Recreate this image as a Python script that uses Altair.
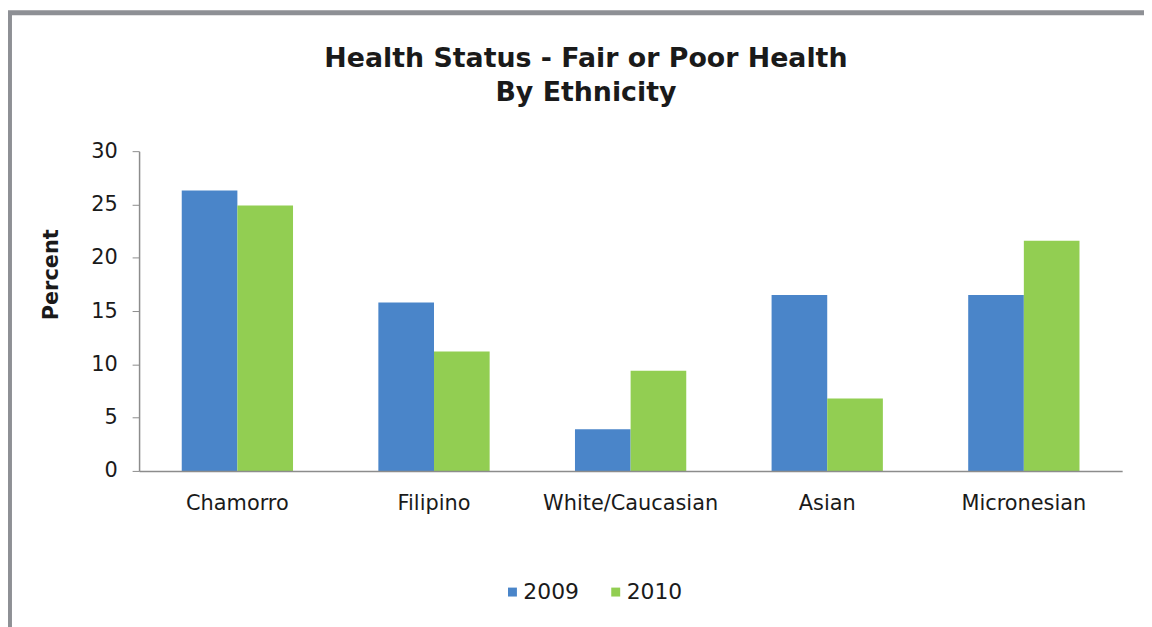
import altair as alt
import pandas as pd

categories = ["Chamorro", "Filipino", "White/Caucasian", "Asian", "Micronesian"]
years = ["2009", "2010"]
v2009 = [26.3, 15.8, 3.9, 16.5, 16.5]
v2010 = [24.9, 11.2, 9.4, 6.8, 21.6]
y_ticks = [0, 5, 10, 15, 20, 25, 30]
colors = ["#4A85C9", "#92CE52"]

rows = []
for c, a, b in zip(categories, v2009, v2010):
    rows.append({"Ethnicity": c, "Year": "2009", "Percent": a})
    rows.append({"Ethnicity": c, "Year": "2010", "Percent": b})
df = pd.DataFrame(rows)

TXT = "#1a1a1a"
FONT = "DejaVu Sans"

frame = alt.Chart(alt.Data(values=[{"a": 1}])).mark_rect(
    fillOpacity=0, stroke="#8e9095", strokeWidth=5
).encode(
    x=alt.value(-130.5), x2=alt.value(1100),
    y=alt.value(-139.5), y2=alt.value(700)
)

bars = alt.Chart(df).mark_bar().encode(
    x=alt.X("Ethnicity:N", sort=categories,
            scale=alt.Scale(paddingInner=0.434, paddingOuter=0.217),
            axis=alt.Axis(title=None, labelAngle=0, labelFont=FONT, labelFontSize=21,
                          labelColor=TXT, labelPadding=22, ticks=False,
                          domainColor="#8c8c8c", domainWidth=1.5, zindex=1)),
    xOffset=alt.XOffset("Year:N", sort=years,
                        scale=alt.Scale(paddingInner=0, paddingOuter=0)),
    y=alt.Y("Percent:Q", scale=alt.Scale(domain=[0, 30], nice=False),
            axis=alt.Axis(values=y_ticks, title="Percent", grid=False,
                          labelFont=FONT, labelFontSize=21, labelColor=TXT,
                          labelPadding=15, tickSize=7, tickColor="#8c8c8c",
                          domainColor="#8c8c8c", domainWidth=1.5,
                          titleFont=FONT, titleFontSize=21, titleFontWeight="bold",
                          titleColor=TXT, titleX=-88, titleY=124,
                          titleAlign="center", titleBaseline="middle", zindex=1)),
    color=alt.Color("Year:N",
                    scale=alt.Scale(domain=years, range=colors),
                    legend=alt.Legend(title=None, orient="none", direction="horizontal",
                                      legendX=365, legendY=433, padding=0,
                                      symbolType="square", symbolSize=81,
                                      symbolStrokeWidth=0, labelFont=FONT,
                                      labelFontSize=22, labelColor=TXT,
                                      labelOffset=0, columnPadding=26)),
)

chart = alt.layer(frame, bars).properties(
    width=990,
    height=322,
    title=alt.Title(["Health Status - Fair or Poor Health", "By Ethnicity"],
                    font=FONT, fontSize=27, fontWeight="bold", color=TXT,
                    anchor="middle", frame="group", dx=-45, offset=-97,
                    lineHeight=34),
    padding={"left": 132, "top": 142, "right": 22, "bottom": 155},
    autosize=alt.AutoSizeParams(type="none"),
    background="white",
).configure_view(stroke=None)

chart.save("out.html", embed_options={"renderer": "svg", "actions": False})
